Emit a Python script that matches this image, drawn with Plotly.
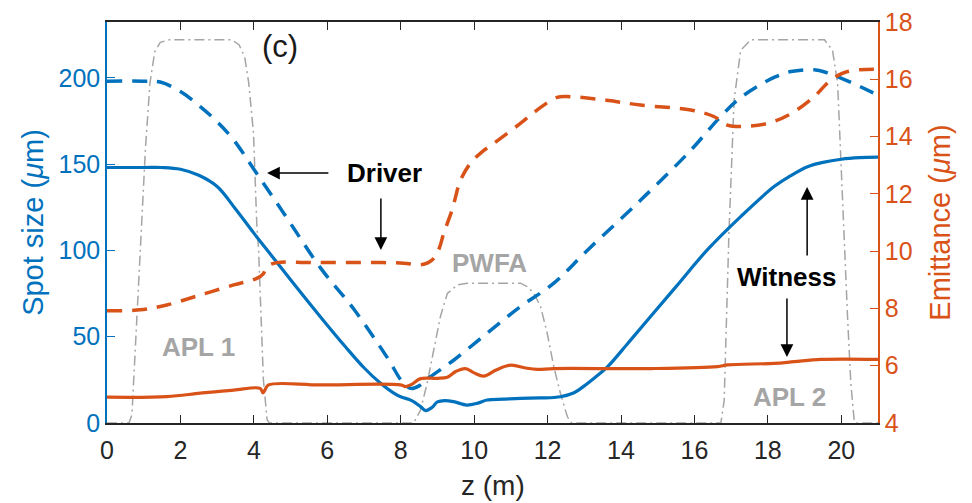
import plotly.graph_objects as go

# ---------------- data ----------------
# Witness spot size (um), left axis
z_ws = [0, 1.0, 1.5, 2.0, 2.5, 3.0, 3.5, 4.0, 4.5, 5.0, 5.81, 6.5, 7.0, 7.45, 7.8, 8.0, 8.3,
        8.54, 8.68, 8.85, 9.0, 9.2, 9.44, 9.8, 10.1, 10.35, 10.8, 11.26, 11.8, 12.35, 12.72,
        13.0, 13.3, 13.63, 14.2, 14.8, 15.5, 16.35, 17.26, 18.17, 18.6, 19.08, 19.5, 20.0, 20.5, 21]
ws = [148, 148, 148, 147, 143.5, 137, 124, 110, 96.5, 83, 61.6, 44, 32, 23, 17.5, 15.2, 13,
      9.5, 7.2, 9, 12.2, 13, 12.4, 10.4, 11.5, 13.3, 13.8, 14.3, 14.5, 15.2, 17.5,
      21.5, 26.5, 32.5, 46.5, 61.6, 79, 100.3, 119.6, 137, 143, 148.5, 151, 152.8, 153.7, 154]

# Driver spot size (um), left axis
z_ds = [0, 1.0, 1.45, 2.0, 2.54, 3.0, 3.45, 4.0, 4.8, 5.81, 6.72, 7.63, 8.0, 8.15, 8.3, 8.5,
        8.81, 9.45, 10.35, 11.26, 12.17, 13.08, 14.53, 15.9, 16.63, 17.17, 17.72, 18.2, 18.63,
        19.26, 19.6, 19.99, 20.4, 20.8, 21]
ds = [198, 198, 197.5, 192, 183.3, 174.5, 164, 147, 122, 90, 66, 38, 25, 21.5, 20, 21.5,
      26.8, 36.5, 52, 67.4, 81, 100, 129, 158, 175.6, 187, 195, 200.5, 203.6,
      204.6, 203, 199.8, 196, 192, 190]

# Driver emittance (um), right axis
z_de = [0, 0.9, 1.63, 2.54, 3.45, 4.08, 4.25, 4.36, 4.63, 5.5, 6.5, 7.5, 8.08, 8.54, 8.75,
        8.9, 9.05, 9.17, 9.4, 9.63, 9.9, 10.2, 10.54, 11.26, 11.72, 12.26, 12.63, 13.54,
        14.53, 15.9, 16.53, 16.9, 17.26, 17.99, 18.63, 19.26, 19.72, 20.17, 21]
de = [7.92, 7.95, 8.12, 8.47, 8.82, 9.05, 9.2, 9.46, 9.6, 9.6, 9.6, 9.6, 9.58, 9.52, 9.6,
      9.75, 10.1, 10.62, 11.44, 12.48, 13.07, 13.45, 13.77, 14.46, 14.93, 15.37, 15.39, 15.28,
      15.1, 14.93, 14.7, 14.4, 14.35, 14.46, 14.8, 15.39, 15.98, 16.27, 16.35]

# Witness emittance (um), right axis
z_we = [0, 1.63, 2.54, 3.45, 4.17, 4.25, 4.3, 4.4, 5.81, 8.0, 8.13, 8.3, 8.54, 9.0, 9.27,
        9.5, 9.76, 10.0, 10.26, 10.6, 11.0, 11.4, 11.72, 12.17, 14.81, 16.63, 16.9, 18.17,
        18.72, 19.45, 21]
we = [4.9, 4.92, 5.04, 5.15, 5.21, 5.05, 5.15, 5.33, 5.33, 5.33, 5.27, 5.35, 5.55, 5.56, 5.6,
      5.8, 5.9, 5.75, 5.64, 5.85, 6.02, 5.92, 5.87, 5.9, 5.9, 5.97, 6.03, 6.08,
      6.14, 6.22, 6.22]

# Lattice / plasma profile (arbitrary, drawn in left-axis units)
z_pr = [0, 0.6, 0.68, 0.8, 0.92, 1.05, 1.17, 1.3, 1.45, 1.7, 3.4, 3.6, 3.75, 3.86, 3.99, 4.08,
        4.13, 4.26, 4.36, 4.42, 8.35, 8.54, 8.72, 8.9, 9.08, 9.27, 9.54, 9.81, 11.26, 11.45,
        11.63, 11.81, 11.99, 12.17, 12.35, 12.54, 12.65, 16.72, 16.81, 16.94, 17.08, 17.26,
        17.54, 19.54, 19.76, 19.9, 19.99, 20.08, 20.17, 20.26, 20.35, 20.4, 21]
pr = [0, 0, 5, 55, 105, 160, 197, 215, 220.5, 222, 222, 219, 212, 197, 168, 115,
      100, 25, 2, 0, 0, 7.5, 23, 42, 61.6, 75, 80, 81, 81, 79,
      75, 67.4, 52, 32.6, 17.2, 3.6, 0, 0, 13, 110, 187, 216,
      222, 222, 216, 197, 148.5, 110, 61.6, 23, 1.7, 0, 0]

x_ticks = [0, 2, 4, 6, 8, 10, 12, 14, 16, 18, 20]
y1_ticks = [0, 50, 100, 150, 200]
y2_ticks = [4, 6, 8, 10, 12, 14, 16, 18]

BLUE = "#0072BD"
ORANGE = "#D95319"
GRAY = "#A5A5A5"
DARK = "#262626"
FONT = "Liberation Sans, Arial, sans-serif"

fig = go.Figure()
fig.add_trace(go.Scatter(x=z_pr, y=pr, mode="lines", yaxis="y",
                         line=dict(color=GRAY, width=1.5, dash="10px,4px,2px,4px"),
                         showlegend=False, hoverinfo="skip"))
fig.add_trace(go.Scatter(x=z_ws, y=ws, mode="lines", yaxis="y", line_shape="spline",
                         line=dict(color=BLUE, width=3.2), showlegend=False))
fig.add_trace(go.Scatter(x=z_ds, y=ds, mode="lines", yaxis="y", line_shape="spline",
                         line=dict(color=BLUE, width=3.5, dash="15px,10px"), showlegend=False))
fig.add_trace(go.Scatter(x=z_de, y=de, mode="lines", yaxis="y2", line_shape="spline",
                         line=dict(color=ORANGE, width=3.5, dash="15px,10px"), showlegend=False))
fig.add_trace(go.Scatter(x=z_we, y=we, mode="lines", yaxis="y2", line_shape="spline",
                         line=dict(color=ORANGE, width=3.2), showlegend=False))

ann = []
def txt(x, y, s, size=26, color="black", bold=True):
    ann.append(dict(x=x, y=y, xref="x", yref="y", text=("<b>%s</b>" % s) if bold else s,
                    showarrow=False, font=dict(family=FONT, size=size, color=color)))

def arrow(x, y, ax, ay):
    ann.append(dict(x=x, y=y, ax=ax, ay=ay, xref="x", yref="y", axref="x", ayref="y",
                    text="", showarrow=True, arrowhead=2, arrowsize=1.7, arrowwidth=1.5,
                    arrowcolor="black", standoff=0, startstandoff=0))

txt(4.71, 218.0, "(c)", size=31, color="#1a1a1a", bold=False)
txt(7.57, 144.8, "Driver")
arrow(4.36, 144.8, 6.07, 144.8)
arrow(7.46, 100.2, 7.46, 130.9)
txt(18.5, 84.6, "Witness")
arrow(19.07, 136.7, 19.07, 96.1)
arrow(18.52, 38.2, 18.52, 73.0)
txt(2.49, 44.2, "APL 1", color=GRAY)
txt(10.43, 92.7, "PWFA", color=GRAY)
txt(18.58, 15.2, "APL 2", color=GRAY)
# x-axis title, placed below the tick labels
ann.append(dict(x=0.5, y=-0.155, xref="paper", yref="paper", text="z (m)", showarrow=False,
                xanchor="center", yanchor="middle", font=dict(family=FONT, size=28, color=DARK)))

fig.update_layout(
    width=972, height=503,
    margin=dict(l=107, r=94, t=22, b=80),
    paper_bgcolor="white", plot_bgcolor="white",
    font=dict(family=FONT),
    annotations=ann,
    xaxis=dict(range=[0, 21], tickvals=x_ticks, ticks="inside", ticklen=8, tickwidth=1.2,
               tickcolor=DARK, showline=True, linecolor=DARK, linewidth=1.5,
               mirror="ticks", showgrid=False, zeroline=False, ticklabelstandoff=4,
               automargin=False, tickfont=dict(size=25, color=DARK)),
    yaxis=dict(range=[0, 232.3], tickvals=y1_ticks, ticks="inside", ticklen=8, tickwidth=1.2,
               tickcolor=BLUE, showline=True, linecolor=BLUE, linewidth=1.5, automargin=False,
               showgrid=False, zeroline=False, tickfont=dict(size=25, color=BLUE),
               title=dict(text="Spot size (<i>μ</i>m)", font=dict(size=29, color=BLUE), standoff=6)),
    yaxis2=dict(range=[4, 18], tickvals=y2_ticks, ticks="inside", ticklen=8, tickwidth=1.2,
                tickcolor=ORANGE, showline=True, linecolor=ORANGE, linewidth=1.5, automargin=False,
                overlaying="y", side="right", showgrid=False, zeroline=False,
                tickfont=dict(size=25, color=ORANGE),
                title=dict(text="Emittance (<i>μ</i>m)", font=dict(size=29, color=ORANGE), standoff=18)),
)

fig.write_html("out.html")
